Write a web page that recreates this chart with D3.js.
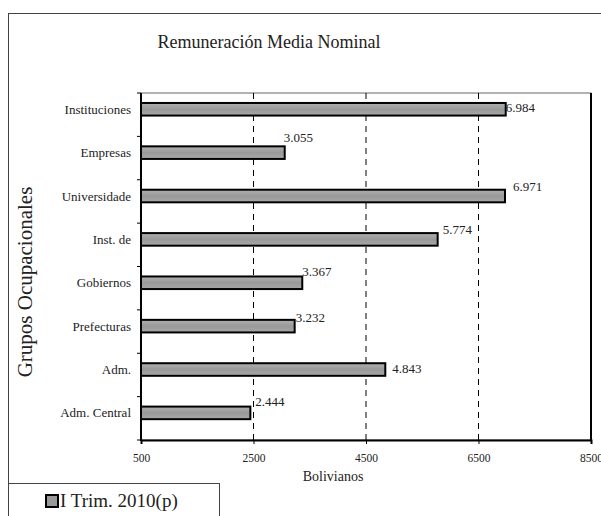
<!DOCTYPE html>
<html>
<head>
<meta charset="utf-8">
<script src="https://cdn.jsdelivr.net/npm/d3@7"></script>
<style>
    body { margin: 0; background: #fff; }
    svg text { font-family: "Liberation Serif", "DejaVu Serif", serif; fill: #222; }
</style>
</head>
<body>
<div id="chart"></div>
<script>
// Data
const categories = ['Instituciones', 'Empresas', 'Universidade', 'Inst. de',
    'Gobiernos', 'Prefecturas', 'Adm.', 'Adm. Central'];
const values = [6984, 3055, 6971, 5774, 3367, 3232, 4843, 2444];
const valueLabels = ['6.984', '3.055', '6.971', '5.774', '3.367', '3.232', '4.843', '2.444'];
const xTicks = [500, 2500, 4500, 6500, 8500];
const seriesName = 'I Trim. 2010(p)';

// label nudges (hand placed in the original)
const labelDx = [0, -1, 8, 5, 0, 1, 7, 5];
const labelDy = [-2, -15, -10, -10, -11, -9, -1, -11];

const width = 601, height = 516;
const plot = { left: 141, right: 591, top: 93, bottom: 440 };
const serif = '"Liberation Serif", "DejaVu Serif", serif';

const svg = d3.select('#chart')
    .append('svg')
    .attr('width', width)
    .attr('height', height);

// outer frame (runs off to the right)
svg.append('rect')
    .attr('x', 8.5).attr('y', 13.5)
    .attr('width', 620).attr('height', 520)
    .attr('fill', 'none')
    .attr('stroke', '#444')
    .attr('stroke-width', 1);

// Title
svg.append('text')
    .attr('x', 269).attr('y', 48)
    .attr('text-anchor', 'middle')
    .attr('font-size', '18px')
    .text('Remuneración Media Nominal');

// scales
const x = d3.scaleLinear()
    .domain([500, 8500])
    .range([plot.left, plot.right]);

const y = d3.scaleBand()
    .domain(categories)
    .range([plot.top, plot.bottom]);

const bw = y.bandwidth();
const barTop = c => y(c) + bw * 0.23;
const barH = bw * 0.29;

// plot area frame
svg.append('rect')
    .attr('x', plot.left).attr('y', plot.top)
    .attr('width', plot.right - plot.left)
    .attr('height', plot.bottom - plot.top)
    .attr('fill', '#fff')
    .attr('stroke', '#666')
    .attr('stroke-width', 1);

svg.append('line')
    .attr('x1', plot.right).attr('x2', plot.right)
    .attr('y1', plot.top).attr('y2', plot.bottom)
    .attr('stroke', '#000')
    .attr('stroke-width', 2);

// dashed gridlines
svg.append('g')
    .selectAll('line')
    .data(xTicks.slice(1, -1))
    .enter()
    .append('line')
    .attr('x1', d => x(d)).attr('x2', d => x(d))
    .attr('y1', plot.top).attr('y2', plot.bottom)
    .attr('stroke', '#000')
    .attr('stroke-width', 1)
    .attr('stroke-dasharray', '6,5');

// bar fill gradient
const grad = svg.append('defs')
    .append('linearGradient')
    .attr('id', 'barFill')
    .attr('x1', 0).attr('x2', 0).attr('y1', 0).attr('y2', 1);
grad.append('stop').attr('offset', '0%').attr('stop-color', '#b0b0b0');
grad.append('stop').attr('offset', '50%').attr('stop-color', '#999');
grad.append('stop').attr('offset', '100%').attr('stop-color', '#a8a8a8');

// bars
svg.append('g')
    .selectAll('rect')
    .data(categories)
    .enter()
    .append('rect')
    .attr('x', x(500))
    .attr('y', d => barTop(d))
    .attr('width', (d, i) => x(values[i]) - x(500))
    .attr('height', barH)
    .attr('fill', 'url(#barFill)')
    .attr('stroke', '#000')
    .attr('stroke-width', 2);

// value labels
svg.append('g')
    .selectAll('text')
    .data(categories)
    .enter()
    .append('text')
    .attr('x', (d, i) => x(values[i]) + labelDx[i])
    .attr('y', (d, i) => barTop(d) + barH / 2 + labelDy[i])
    .attr('dy', '0.35em')
    .attr('font-size', '13px')
    .text((d, i) => valueLabels[i]);

// x axis
const xAxis = d3.axisBottom(x)
    .tickValues(xTicks)
    .tickSize(4)
    .tickFormat(d3.format('d'));

const xAxisGroup = svg.append('g')
    .attr('transform', `translate(0, ${plot.bottom})`)
    .call(xAxis);
xAxisGroup.select('.domain').attr('stroke-width', 2);
xAxisGroup.selectAll('text')
    .attr('font-size', '11.5px')
    .attr('dy', '1.3em')
    .style('font-family', serif)
    .style('fill', '#222');

// y axis
const yTickPos = categories.map(c => y(c)).concat([plot.bottom]);
const yAxisGroup = svg.append('g');
yAxisGroup.append('line')
    .attr('x1', plot.left).attr('x2', plot.left)
    .attr('y1', plot.top).attr('y2', plot.bottom + 1)
    .attr('stroke', '#000')
    .attr('stroke-width', 2);
yAxisGroup.selectAll('.tick')
    .data(yTickPos)
    .enter()
    .append('line')
    .attr('x1', plot.left - 4).attr('x2', plot.left)
    .attr('y1', d => d).attr('y2', d => d)
    .attr('stroke', '#000');
yAxisGroup.selectAll('.lbl')
    .data(categories)
    .enter()
    .append('text')
    .attr('x', 131)
    .attr('y', d => barTop(d) + barH / 2)
    .attr('dy', '0.35em')
    .attr('text-anchor', 'end')
    .attr('font-size', '13px')
    .style('font-family', serif)
    .text(d => d);

// axis titles
svg.append('text')
    .attr('x', 333).attr('y', 481)
    .attr('text-anchor', 'middle')
    .attr('font-size', '14px')
    .style('font-family', serif)
    .text('Bolivianos');

svg.append('text')
    .attr('transform', 'rotate(-90)')
    .attr('x', -282).attr('y', 32)
    .attr('text-anchor', 'middle')
    .attr('font-size', '21px')
    .text('Grupos Ocupacionales');

// legend
const legend = svg.append('g');
legend.append('rect')
    .attr('x', 8.5).attr('y', 483.5)
    .attr('width', 211).attr('height', 40)
    .attr('fill', '#fff')
    .attr('stroke', '#444');
legend.append('rect')
    .attr('x', 46).attr('y', 495)
    .attr('width', 12).attr('height', 12)
    .attr('fill', '#999')
    .attr('stroke', '#000')
    .attr('stroke-width', 2);
legend.append('text')
    .attr('x', 60).attr('y', 507)
    .attr('font-size', '19px')
    .text(seriesName);
</script>
</body>
</html>
